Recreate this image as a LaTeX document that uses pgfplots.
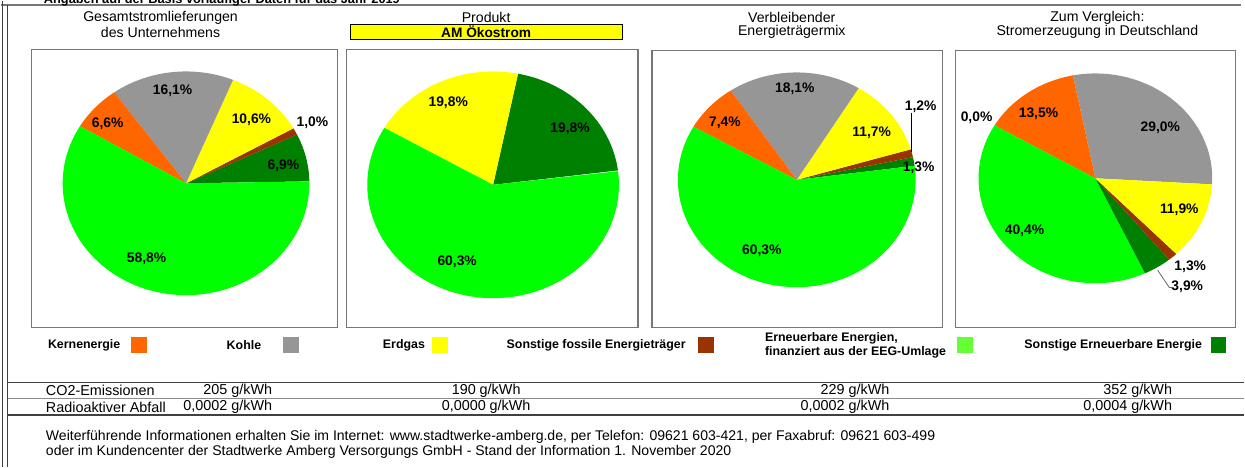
\documentclass[border=0pt]{standalone}
\usepackage{pgfplots}
\pgfplotsset{compat=1.18}
\usepackage{fontspec}
\setmainfont{Liberation Sans}

\definecolor{corange}{HTML}{FF6600}
\definecolor{cgray}{HTML}{969696}
\definecolor{cyellow}{HTML}{FFFF00}
\definecolor{cbrown}{HTML}{993300}
\definecolor{clgreen}{HTML}{00FF00}
\definecolor{clgreenleg}{HTML}{66FF33}
\definecolor{cdgreen}{HTML}{008000}
\definecolor{cframe}{HTML}{777777}

% set pie centre, radii and start angle
\newcommand\mypiesetup[5]{%
  \xdef\pcx{#1}\xdef\pcy{#2}\xdef\prx{#3}\xdef\pry{#4}%
  \pgfmathsetmacro\tmpang{#5}\global\let\curang\tmpang}
% one slice: percent, colour (counter-clockwise)
\newcommand\myslice[2]{%
  \pgfmathsetmacro\angB{\curang+3.6*#1}%
  \edef\doslice{\noexpand\addplot[fill=#2,draw=none,domain=\curang:\angB,samples=80,variable=\noexpand\t]
    ({\pcx+\prx*cos(\noexpand\t)},{\pcy-\pry*sin(\noexpand\t)}) -- (axis cs:\pcx,\pcy) -- cycle;}%
  \doslice
  \global\let\curang\angB}

\newcommand\myttl{\fontsize{10.6}{12}\selectfont}
\newcommand\mylbl{\fontsize{10.4}{12}\selectfont\bfseries}
\newcommand\myleg{\fontsize{9.3}{11}\selectfont\bfseries}
\newcommand\mytab{\fontsize{10.8}{12}\selectfont}
\newcommand\myfoot{\fontsize{10.55}{12}\selectfont}

\begin{document}
\begin{tikzpicture}
\begin{axis}[scale only axis,
  width=933.75pt, height=350.25pt,
  xmin=0, xmax=1245, ymin=0, ymax=467, y dir=reverse,
  hide axis, clip=false]

% ---- pies ----
\mypiesetup{185.5}{183}{123.5}{112}{1}
\myslice{6.9}{cdgreen}\myslice{1.0}{cbrown}\myslice{10.6}{cyellow}\myslice{16.1}{cgray}\myslice{6.6}{corange}\myslice{58.8}{clgreen}
\mypiesetup{493}{184.5}{126}{113.5}{7.3}
\myslice{19.8}{cdgreen}\myslice{19.8}{cyellow}\myslice{60.3}{clgreen}
\mypiesetup{797}{179.5}{119}{107.5}{7.5}
\myslice{1.3}{cdgreen}\myslice{1.2}{cbrown}\myslice{11.7}{cyellow}\myslice{18.1}{cgray}\myslice{7.4}{corange}\myslice{60.3}{clgreen}
\mypiesetup{1096}{178}{117}{105}{-3.3}
\myslice{29.0}{cgray}\myslice{13.5}{corange}\myslice{40.4}{clgreen}\myslice{3.9}{cdgreen}\myslice{1.3}{cbrown}\myslice{11.9}{cyellow}

% ---- legend squares ----
\addplot[only marks, mark=square*, mark size=5.6pt, color=corange] coordinates {(138.5,345)};
\addplot[only marks, mark=square*, mark size=5.6pt, color=cgray] coordinates {(290.5,345)};
\addplot[only marks, mark=square*, mark size=5.6pt, color=cyellow] coordinates {(439.5,345)};
\addplot[only marks, mark=square*, mark size=5.6pt, color=cbrown] coordinates {(706,345)};
\addplot[only marks, mark=square*, mark size=5.6pt, color=clgreenleg] coordinates {(965.5,345)};
\addplot[only marks, mark=square*, mark size=5.6pt, color=cdgreen] coordinates {(1219,345)};

% ---- frames and rules ----
\draw[cframe, line width=1.1pt] (axis cs:0,4.5) -- (axis cs:1242,4.5);
\draw[black!75, line width=0.8pt] (axis cs:2,0) -- (axis cs:2,467);
\draw[black!75, line width=0.8pt] (axis cs:7,4.5) -- (axis cs:7,467);
\draw[cframe, line width=0.9pt] (axis cs:31,49) rectangle (axis cs:337,327);
\draw[cframe, line width=0.9pt] (axis cs:346,49) rectangle (axis cs:638,327);
\draw[cframe, line width=0.9pt] (axis cs:652,50) rectangle (axis cs:943,327);
\draw[cframe, line width=0.9pt] (axis cs:956,50) rectangle (axis cs:1236,327);
\draw[black!75, line width=0.8pt] (axis cs:7,382) -- (axis cs:1245,382);
\draw[black!45, line width=1.2pt] (axis cs:7,398.5) -- (axis cs:1245,398.5);
\draw[black!75, line width=0.8pt] (axis cs:7,415) -- (axis cs:1245,415);

% ---- top text, cut by the page edge ----
\node[overlay, anchor=base west, inner sep=0pt, font=\fontsize{9.6}{11}\selectfont\bfseries] at (axis cs:43,3) {Angaben auf der Basis vorläufiger Daten für das Jahr 2019};

% ---- titles ----
\node[font=\myttl] at (axis cs:160,17) {Gesamtstromlieferungen};
\node[font=\myttl] at (axis cs:160,31.5) {des Unternehmens};
\node[font=\myttl] at (axis cs:486,17) {Produkt};
\node[draw=black, fill=cyellow, line width=0.6pt, minimum width=204pt, minimum height=11.5pt, inner sep=0pt, font=\fontsize{10.3}{12}\selectfont\bfseries] at (axis cs:486,31.5) {AM Ökostrom};
\node[font=\myttl] at (axis cs:792,17) {Verbleibender};
\node[font=\myttl] at (axis cs:792,31.5) {Energieträgermix};
\node[font=\myttl] at (axis cs:1098,17) {Zum Vergleich:};
\node[font=\myttl] at (axis cs:1098,31.5) {Stromerzeugung in Deutschland};

% ---- pie labels ----
\node[font=\mylbl] at (axis cs:172,90) {16,1\%};
\node[font=\mylbl] at (axis cs:107,123) {6,6\%};
\node[font=\mylbl] at (axis cs:251,119) {10,6\%};
\node[font=\mylbl] at (axis cs:312,122) {1,0\%};
\node[font=\mylbl] at (axis cs:283,165) {6,9\%};
\node[font=\mylbl] at (axis cs:146,259) {58,8\%};

\node[font=\mylbl] at (axis cs:448,102) {19,8\%};
\node[font=\mylbl] at (axis cs:570,128) {19,8\%};
\node[font=\mylbl] at (axis cs:457,262) {60,3\%};

\node[font=\mylbl] at (axis cs:795,88) {18,1\%};
\node[font=\mylbl] at (axis cs:725,122) {7,4\%};
\node[font=\mylbl] at (axis cs:872,132) {11,7\%};
\node[font=\mylbl] at (axis cs:921,106) {1,2\%};
\node[font=\mylbl] at (axis cs:919,167) {1,3\%};
\node[font=\mylbl] at (axis cs:762,251) {60,3\%};
\draw[black, line width=0.6pt] (axis cs:911.7,112.7) -- (axis cs:911.7,151.7);

\node[font=\mylbl] at (axis cs:977,117) {0,0\%};
\node[font=\mylbl] at (axis cs:1039,113) {13,5\%};
\node[font=\mylbl] at (axis cs:1161,127) {29,0\%};
\node[font=\mylbl] at (axis cs:1180,209) {11,9\%};
\node[font=\mylbl] at (axis cs:1025,230) {40,4\%};
\node[font=\mylbl] at (axis cs:1191,267) {1,3\%};
\node[font=\mylbl] at (axis cs:1188,287) {3,9\%};
\draw[black!60, line width=0.6pt] (axis cs:1158.3,270) -- (axis cs:1170,287.3) -- (axis cs:1173,287.3);

% ---- legend texts ----
\begin{scope}[every node/.style={inner sep=0pt}]
\node[anchor=east, font=\myleg] at (axis cs:120,345) {Kernenergie};
\node[anchor=east, font=\myleg] at (axis cs:261,345) {Kohle};
\node[anchor=east, font=\myleg] at (axis cs:425,345) {Erdgas};
\node[anchor=east, font=\myleg] at (axis cs:686,345) {Sonstige fossile Energieträger};
\node[anchor=west, font=\myleg] at (axis cs:765,338) {Erneuerbare Energien,};
\node[anchor=west, font=\myleg] at (axis cs:765,352.5) {finanziert aus der EEG-Umlage};
\node[anchor=east, font=\myleg] at (axis cs:1203,345) {Sonstige Erneuerbare Energie};

% ---- table ----
\node[anchor=west, font=\mytab] at (axis cs:45,390.5) {CO2-Emissionen};
\node[anchor=west, font=\mytab] at (axis cs:45,407) {Radioaktiver Abfall};
\node[anchor=east, font=\mytab] at (axis cs:272,390.5) {205 g/kWh};
\node[anchor=east, font=\mytab] at (axis cs:272,407) {0,0002 g/kWh};
\node[font=\mytab] at (axis cs:486,390.5) {190 g/kWh};
\node[font=\mytab] at (axis cs:486,407) {0,0000 g/kWh};
\node[anchor=east, font=\mytab] at (axis cs:890,390.5) {229 g/kWh};
\node[anchor=east, font=\mytab] at (axis cs:890,407) {0,0002 g/kWh};
\node[anchor=east, font=\mytab] at (axis cs:1173,390.5) {352 g/kWh};
\node[anchor=east, font=\mytab] at (axis cs:1173,407) {0,0004 g/kWh};

% ---- footer ----
\node[anchor=west, font=\myfoot] at (axis cs:45,437) {Weiterführende Informationen erhalten Sie im Internet: www.stadtwerke-amberg.de, per Telefon: 09621 603-421, per Faxabruf: 09621 603-499};
\node[anchor=west, font=\myfoot] at (axis cs:45,452) {oder im Kundencenter der Stadtwerke Amberg Versorgungs GmbH - Stand der Information 1. November 2020};
\end{scope}

\end{axis}
\end{tikzpicture}
\end{document}
